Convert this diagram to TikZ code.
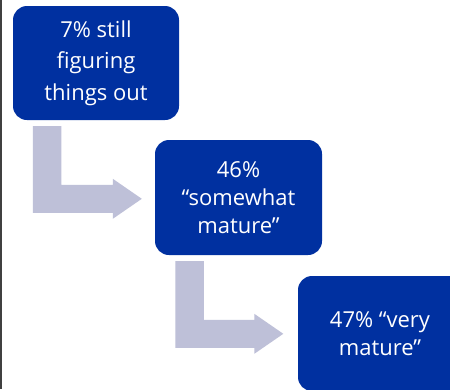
\documentclass[tikz,border=0pt]{standalone}
\usepackage{fontspec}
\setmainfont{Open Sans}
\usetikzlibrary{calc}
\definecolor{boxblue}{HTML}{0030A0}
\definecolor{arrowgrey}{HTML}{BEC0D8}
\definecolor{edgegrey}{HTML}{404040}
\tikzset{
  stagebox/.style={fill=boxblue, draw=none, rounded corners=14pt, text=white,
    align=center, inner sep=0pt, font=\fontsize{22}{31.5}\selectfont},
  bentarrowfill/.style={fill=arrowgrey, draw=none}
}
% #1 start corner (top-left of the vertical bar), #2 tip
\newcommand\bentarrow[2]{%
  \fill[bentarrowfill] let \p1=#1, \p2=#2 in
    (\x1,\y1) -- ({\x1+28.5pt},\y1) -- ({\x1+28.5pt},{\y2+14pt})
    -- ({\x2-29pt},{\y2+14pt}) -- ({\x2-29pt},{\y2+20pt}) -- (\x2,\y2)
    -- ({\x2-29pt},{\y2-20pt}) -- ({\x2-29pt},{\y2-14pt})
    -- (\x1,{\y2-14pt}) -- cycle;}
\begin{document}
\begin{tikzpicture}[x=1pt,y=-1pt]
\useasboundingbox (0,0) rectangle (450,389);
\clip (0,0) rectangle (450,389);
\fill[white] (0,0) rectangle (450,389);
\draw[edgegrey, line width=1.5pt] (0.75,0) -- (0.75,389);
\node[stagebox, minimum width=166pt, minimum height=114pt] (b1) at (96,63)
  {7\% still\\figuring\\things out};
\node[stagebox, minimum width=167pt, minimum height=115pt, font=\fontsize{22}{28}\selectfont] (b2) at (238.5,197.5)
  {46\%\\“somewhat\\mature”};
\node[stagebox, minimum width=164pt, minimum height=115pt, font=\fontsize{22}{28}\selectfont] (b3) at (380,333.5)
  {47\% “very\\mature”};
\bentarrow{($(b1.south west)+(20,6)$)}{($(b2.north west)+(-13,59)$)}
\bentarrow{($(b2.south west)+(20.5,6)$)}{($(b3.north west)+(-14.5,58)$)}
\end{tikzpicture}
\end{document}
